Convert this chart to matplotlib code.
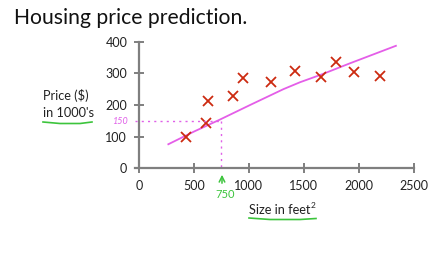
import matplotlib
matplotlib.use("Agg")
import matplotlib.pyplot as plt

# Data
size_sqft = [428, 610, 625, 853, 950, 1205, 1424, 1658, 1794, 1955, 2192]
price_k = [98, 142, 213, 229, 286, 274, 309, 290, 337, 303, 292]
fit_x = [267, 500, 731, 1011, 1314, 1466, 1658, 1922, 2338]
fit_y = [76, 116, 153, 200, 250, 272, 296, 332, 387]
x_ticks = [0, 500, 1000, 1500, 2000, 2500]
y_ticks = [0, 100, 200, 300, 400]
query_size = 750
query_price = 150

W, H = 446, 259
plt.rcParams['font.family'] = ['Lato', 'DejaVu Sans']
fig = plt.figure(figsize=(W / 100, H / 100), dpi=100)


def px(x, y):
    return x / W, 1 - y / H


ax = fig.add_axes([134.6 / W, (259 - 168.3) / H, (413.7 - 134.6) / W, (168.3 - 41.7) / H])
ax.set_xlim(-40, 2500)
ax.set_ylim(0, 400)
ax.patch.set_alpha(0)
for s in ['top', 'right']:
    ax.spines[s].set_visible(False)
ax.spines['left'].set_position(('data', 0))
gray = '#7f7f7f'
for s in ['left', 'bottom']:
    ax.spines[s].set_color(gray)
    ax.spines[s].set_linewidth(1.6)
ax.set_xticks(x_ticks)
ax.set_yticks(y_ticks)
ax.tick_params(direction='inout', length=7, width=1.4, color=gray, labelsize=9,
               labelcolor='#222222')
ax.tick_params(axis='x', pad=5)
ax.tick_params(axis='y', pad=5)

ax.plot(fit_x, fit_y, color='#e45ee8', lw=1.3, clip_on=False)
ax.plot(size_sqft, price_k, linestyle='none', marker='x', color='#cc2a10',
        markersize=7.5, markeredgewidth=1.3, clip_on=False)

ax.plot([-36, query_size], [query_price, query_price], color='#e060e8', lw=1,
        linestyle=(0, (1.5, 3)), clip_on=False)
ax.plot([query_size, query_size], [query_price, 0], color='#e060e8', lw=1,
        linestyle=(0, (1.5, 3)), clip_on=False)

# Title and labels
fig.text(*px(14, 18), 'Housing price prediction.', fontsize=15.2, ha='left', va='center',
         color='#111111')
fig.text(*px(43, 96), 'Price ($)', fontsize=9.2, ha='left', va='center', color='#222222')
fig.text(*px(43, 113), "in 1000's", fontsize=9.2, ha='left', va='center', color='#222222')
fig.text(*px(310, 210), 'Size in feet', fontsize=9.2, ha='right', va='center',
         color='#222222')
fig.text(*px(310.5, 205.5), '2', fontsize=6, ha='left', va='center', color='#222222')

green = '#3cc43c'
# underlines
fig.add_artist(plt.Line2D([43 / W, 60 / W, 80 / W, 92 / W],
                          [1 - 122 / H, 1 - 123.5 / H, 1 - 123.5 / H, 1 - 122 / H],
                          color=green, lw=1.2))
fig.add_artist(plt.Line2D([249 / W, 270 / W, 300 / W, 316 / W],
                          [1 - 218 / H, 1 - 219.5 / H, 1 - 219.5 / H, 1 - 218.5 / H],
                          color=green, lw=1.2))
# handwritten annotations
fig.text(*px(120, 121), '150', fontsize=6.5, ha='center', va='center', color='#e060e8',
         style='italic')
ax.annotate('', xy=px(222, 172), xytext=px(222, 186), xycoords='figure fraction',
            textcoords='figure fraction',
            arrowprops=dict(arrowstyle='->', color=green, lw=1.1))
fig.text(*px(225, 195), '750', fontsize=8, ha='center', va='center', color=green)

fig.savefig('out.png', dpi=100)
